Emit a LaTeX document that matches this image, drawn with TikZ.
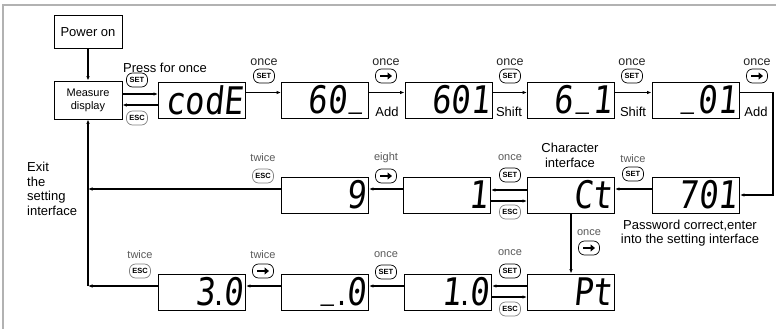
\documentclass[tikz,border=0pt]{standalone}
\usepackage{fontspec}
\setmainfont{Liberation Sans}
\newfontfamily\segfont{DejaVu Sans Mono}[FakeSlant=0.12]
\usepackage{graphicx}
\usetikzlibrary{arrows.meta}
\newcommand\us{\makebox[0.602em]{\raisebox{0.2em}{\scalebox{0.7}[1]{\textunderscore}}}}
\newcommand\dt{{\rmfamily .}}
\newcommand\sg[1]{\scalebox{0.85}[1]{\fontsize{38}{38}\segfont #1}}
\newcommand\arrbtn[2]{\node[btn] (#1) at #2 {}; \draw[barrow] ([xshift=-6pt]#1.center) -- ([xshift=6pt]#1.center);}
\begin{document}
\begin{tikzpicture}[x=1pt,y=-1pt,
  disp/.style={draw,line width=0.9pt,minimum width=87pt,minimum height=36pt,inner sep=0pt,text width=82pt,align=right},
  plain/.style={draw,line width=0.8pt,inner sep=0pt,font=\fontsize{13}{14}\selectfont},
  btn/.style={draw,line width=0.7pt,rounded corners=6pt,minimum width=21pt,minimum height=14pt,inner sep=0pt,font=\fontsize{7.5}{8}\selectfont\bfseries},
  esc/.style={btn,draw=black!50},
  lbl/.style={inner sep=0pt,text=black!85,font=\fontsize{12.5}{13}\selectfont},
  slbl/.style={inner sep=0pt,text=black!65,font=\fontsize{11}{12}\selectfont},
  big/.style={inner sep=0pt,font=\fontsize{13}{14.5}\selectfont},
  con/.style={line width=1.4pt,-{Latex[length=4.5pt,width=3.5pt]}},
  barrow/.style={line width=2.4pt,-{Triangle[length=4.5pt,width=7pt]}}
]
\useasboundingbox (0,0) rectangle (776,329);
\draw[black!30,line width=1.5pt] (3,340) -- (3,5) -- (790,5);

% start boxes
\node[plain,minimum width=68pt,minimum height=33pt] (pw) at (88,32) {Power on};
\node[plain,minimum width=68pt,minimum height=38pt,font=\fontsize{11}{13}\selectfont,align=center] (md) at (88,100) {Measure\\display};

% displays
\node[disp] (cd) at (202,100) {\sg{codE}};
\node[disp] (a60) at (325,100) {\sg{60\us}};
\node[disp] (a601) at (448.5,100) {\sg{601}};
\node[disp] (a6u1) at (571,100) {\sg{6\us1}};
\node[disp] (au01) at (695.5,100) {\sg{\us01}};
\node[disp] (a701) at (696,195) {\sg{701}};
\node[disp] (ct) at (571,195) {\sg{Ct}};
\node[disp] (a1) at (447,195) {\sg{1}};
\node[disp] (a9) at (325,195) {\sg{9}};
\node[disp] (pt) at (571,292) {\sg{Pt}};
\node[disp] (a10) at (448,292) {\sg{1\dt0}};
\node[disp] (au0) at (325,292) {\sg{\us\dt0}};
\node[disp] (a30) at (202,292) {\sg{3\dt0}};

% connectors
\draw[con] (pw) -- (md);
\draw[con] ([yshift=6pt]md.east) -- ([yshift=6pt]cd.west);
\draw[con] ([yshift=-5pt]cd.west) -- ([yshift=-5pt]md.east);
\draw[con] ([yshift=7.5pt]cd.east) -- ([yshift=7.5pt]a60.west);
\draw[con] ([yshift=7.5pt]a60.east) -- ([yshift=7.5pt]a601.west);
\draw[con] ([yshift=7.5pt]a601.east) -- ([yshift=7.5pt]a6u1.west);
\draw[con] ([yshift=7.5pt]a6u1.east) -- ([yshift=7.5pt]au01.west);
\coordinate (rc) at (773,92.5);
\draw[con] (au01.east |- rc) -- (rc) |- (a701.east);
\draw[con] ([yshift=6pt]a701.west) -- ([yshift=6pt]ct.east);
\draw[con] ([yshift=5pt]ct.west) -- ([yshift=5pt]a1.east);
\draw[con] ([yshift=-6pt]a1.east) -- ([yshift=-6pt]ct.west);
\draw[con] ([yshift=6pt]a1.west) -- ([yshift=6pt]a9.east);
\coordinate (lt) at (88,189);
\draw[con] (a9.west |- lt) -- (lt);
\coordinate (lb) at (88,286);
\draw[con] (a30.west |- lb) -- (lb);
\draw[con] (lb) -- (md.south);
\draw[con] (ct) -- (pt);
\draw[con] ([yshift=6pt]pt.west) -- ([yshift=6pt]a10.east);
\draw[con] ([yshift=-5pt]a10.east) -- ([yshift=-5pt]pt.west);
\draw[con] ([yshift=6pt]a10.west) -- ([yshift=6pt]au0.east);
\draw[con] ([yshift=6pt]au0.west) -- ([yshift=6pt]a30.east);

% labels and buttons, top
\node[big] (pf) at (165,68) {Press for once};
\node[btn] (s0) at (137,80) {SET};
\node[esc] (e0) at (137,118) {ESC};
\node[lbl] (o1) at (264,62) {once};
\node[btn] (s1) at (264,76) {SET};
\node[lbl] (o2) at (386,62) {once};
\arrbtn{r2}{(386,76)}
\node[big] (ad1) at (387,112) {Add};
\node[lbl] (o3) at (510,62) {once};
\node[btn] (s3) at (510,76) {SET};
\node[big] (sh1) at (509,112) {Shift};
\node[lbl] (o4) at (632,62) {once};
\node[btn] (s4) at (632,76) {SET};
\node[big] (sh2) at (633,112) {Shift};
\node[lbl] (o5) at (757,62) {once};
\arrbtn{r5}{(757,76)}
\node[big] (ad2) at (756,112) {Add};

% row 2
\node[slbl] (t6) at (263,158) {twice};
\node[esc] (e6) at (263,176) {ESC};
\node[slbl] (t7) at (386,158) {eight};
\arrbtn{r7}{(386,176)}
\node[slbl] (t8) at (510,158) {once};
\node[btn] (s8) at (510,175) {SET};
\node[esc] (e8) at (510,212) {ESC};
\node[slbl] (t9) at (633,159) {twice};
\node[btn] (s9) at (633,174) {SET};
\node[big,align=center] (chi) at (570,155.5) {Character\\interface};
\node[big,align=center] (pwd) at (690,233) {Password correct,enter\\into the setting interface};
\node[slbl] (t10) at (589,233) {once};
\arrbtn{r10}{(589,248)}
\node[big,align=left,anchor=west] (ex) at (27,189) {Exit\\the\\setting\\interface};

% row 3
\node[slbl] (t11) at (140,255) {twice};
\node[esc] (e11) at (140,271) {ESC};
\node[slbl] (t12) at (263,255) {twice};
\arrbtn{r12}{(263,271)}
\node[slbl] (t13) at (386,255) {once};
\node[btn] (s13) at (386,272) {SET};
\node[slbl] (t14) at (510,253) {once};
\node[btn] (s14) at (510,271) {SET};
\node[esc] (e14) at (510,309) {ESC};
\end{tikzpicture}
\end{document}
